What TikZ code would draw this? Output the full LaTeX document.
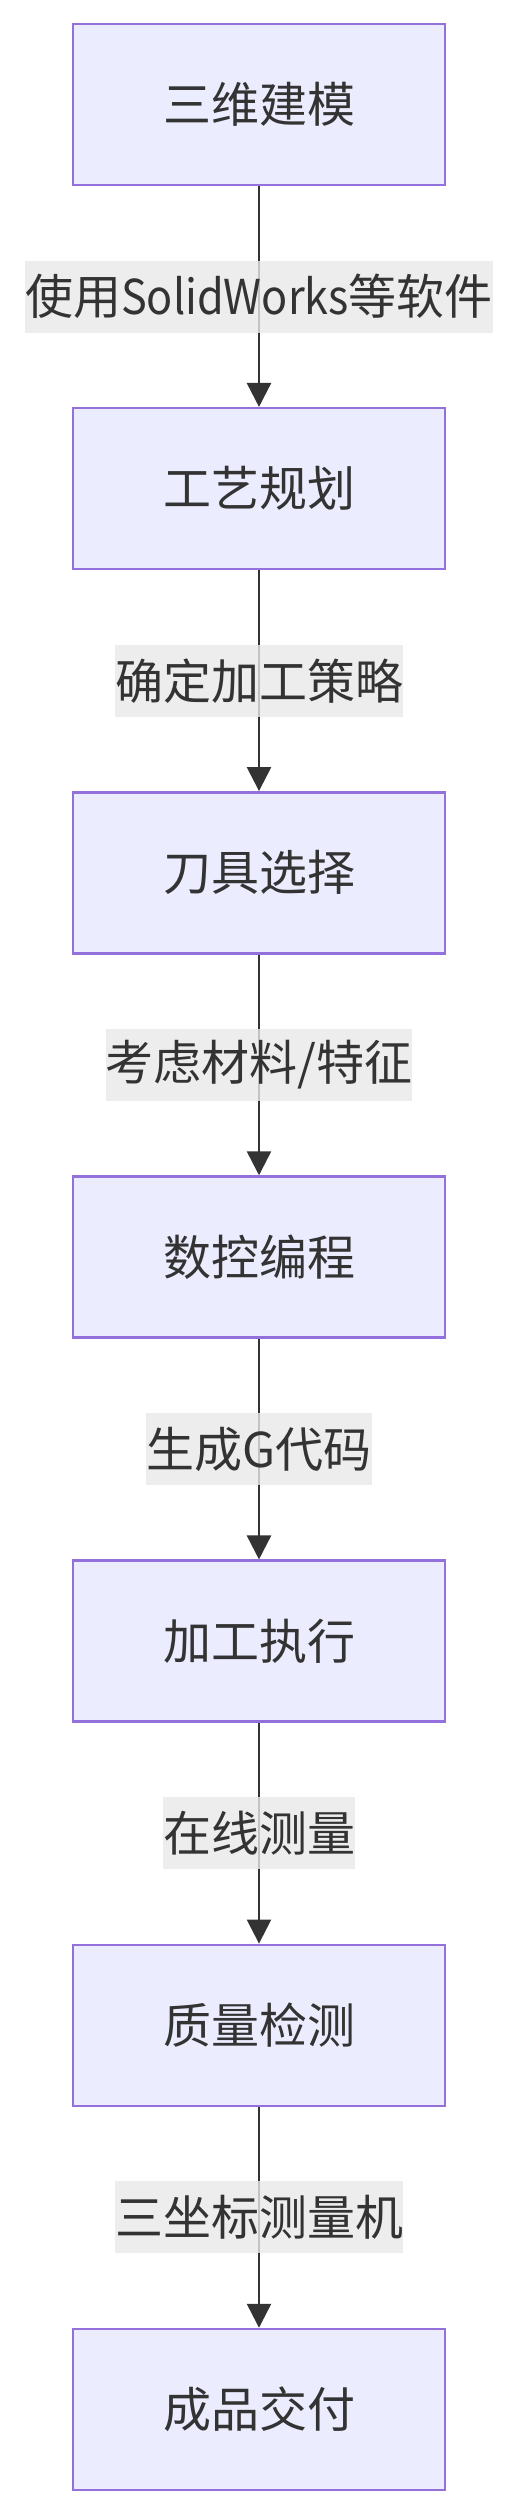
\documentclass[tikz,border=0pt]{standalone}
\usepackage{fontspec}
\setmainfont{Noto Sans CJK SC}
\newfontfamily\narrowlatin[FakeStretch=0.9]{Noto Sans CJK SC}
\usepackage{tikz}
\usetikzlibrary{arrows.meta}

\definecolor{boxfill}{HTML}{ECECFF}
\definecolor{boxline}{HTML}{9370DB}
\definecolor{ink}{HTML}{333333}
\definecolor{labelbg}{HTML}{E8E8E8}

\tikzset{
	stage/.style={draw=boxline, fill=boxfill, line width=2.5pt, minimum width=372pt, minimum height=161pt, text=ink, font=\fontsize{48pt}{72pt}\selectfont},
	flow/.style={draw=ink, line width=2.5pt, -{Triangle[length=24pt,width=24pt]}},
	note/.style={fill=labelbg, fill opacity=0.8, text opacity=1, text=ink, inner xsep=0pt, inner ysep=0pt, minimum height=72pt, font=\fontsize{48pt}{72pt}\selectfont}
}

\begin{document}
\begin{tikzpicture}[x=1pt, y=-1pt]
		\useasboundingbox (0,0) rectangle (518,2514);
		
		\node[stage] (model) at (259, 104.5) {三维建模};
		\node[stage] (plan) at (259, 488.7) {工艺规划};
		\node[stage] (tool) at (259, 872.8) {刀具选择};
		\node[stage] (program) at (259, 1257.0) {数控编程};
		\node[stage] (machine) at (259, 1641.2) {加工执行};
		\node[stage] (inspect) at (259, 2025.3) {质量检测};
		\node[stage] (deliver) at (259, 2409.5) {成品交付};
		
		\draw[flow] (model) -- node[note] {使用{\narrowlatin SolidWorks}等软件} (plan);
		\draw[flow] (plan) -- node[note] {确定加工策略} (tool);
		\draw[flow] (tool) -- node[note] {考虑材料/特征} (program);
		\draw[flow] (program) -- node[note] {生成G代码} (machine);
		\draw[flow] (machine) -- node[note] {在线测量} (inspect);
		\draw[flow] (inspect) -- node[note] {三坐标测量机} (deliver);
		\end{tikzpicture}
\end{document}
